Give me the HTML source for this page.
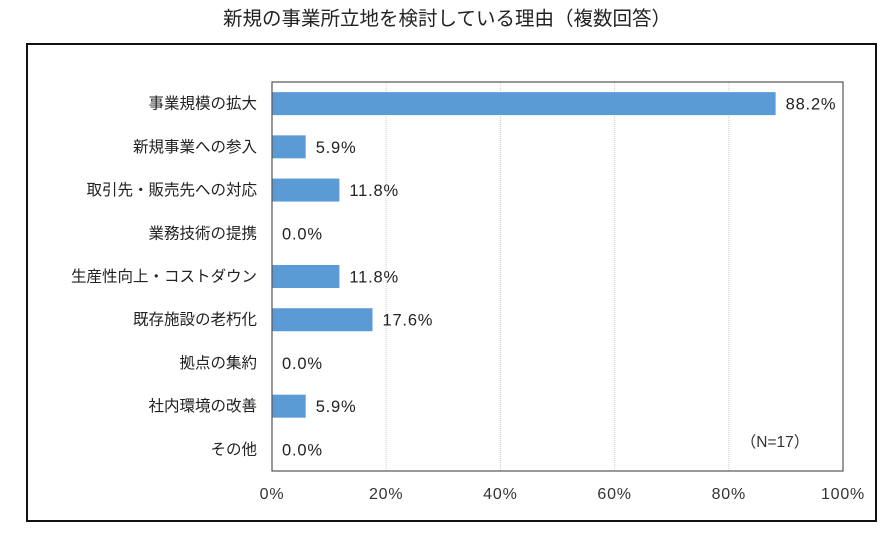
<!DOCTYPE html>
<html><head><meta charset="utf-8"><style>
body{margin:0;width:895px;height:537px;background:#fff;overflow:hidden;font-family:"Liberation Sans","Noto Sans CJK JP",sans-serif;}
</style></head><body>
<svg width="895" height="537" xmlns="http://www.w3.org/2000/svg" id="chart" font-family="Liberation Sans, Noto Sans CJK JP, sans-serif">
<text x="447" y="25" text-anchor="middle" font-size="19.5" fill="#222">新規の事業所立地を検討している理由（複数回答）</text>
<rect x="27" y="44" width="849" height="477" fill="none" stroke="#111" stroke-width="2"/>
<g id="grid"></g>
<g id="bars"></g>
<rect x="272" y="82" width="571" height="389" fill="none" stroke="#555" stroke-width="1.2"/>
<text x="775" y="447" text-anchor="middle" font-size="15.5" fill="#333">（N=17）</text>
</svg>
<script>
const categories=["事業規模の拡大","新規事業への参入","取引先・販売先への対応","業務技術の提携","生産性向上・コストダウン","既存施設の老朽化","拠点の集約","社内環境の改善","その他"];
const values=[88.2,5.9,11.8,0.0,11.8,17.6,0.0,5.9,0.0];
const ticks=[0,20,40,60,80,100];
const ns="http://www.w3.org/2000/svg";
const X0=272,W=571,Y0=82,H=389;
const x=v=>X0+v/100*W;
const band=H/categories.length;
const y=i=>Y0+band*i+band/2;
const grid=document.getElementById('grid'),bars=document.getElementById('bars');
function mk(tag,attrs,parent){const e=document.createElementNS(ns,tag);for(const k in attrs)e.setAttribute(k,attrs[k]);parent.appendChild(e);return e;}
ticks.forEach(t=>{
 if(t>0&&t<100){const l=mk('line',{x1:x(t),x2:x(t),y1:Y0,y2:Y0+H,stroke:'#ccc','stroke-dasharray':'1,1'},grid);
 
 }
 const tx=mk('text',{x:x(t),y:499,'text-anchor':'middle','font-size':16,'letter-spacing':'0.8',fill:'#333'},grid);
 tx.textContent=t+'%';
 
 
});
categories.forEach((c,i)=>{
 const lb=mk('text',{x:257,y:y(i)+5,'text-anchor':'end','font-size':15.5,fill:'#222'},bars);
 lb.textContent=c;
 
 
 const v=values[i];
 if(v>0){const r=mk('rect',{x:X0,y:y(i)-11.5,width:x(v)-X0,height:23,fill:'#5b9bd5'},bars);
 
 }
 const vl=mk('text',{x:x(v)+10,y:y(i)+6,'font-size':16.5,'letter-spacing':'0.8',fill:'#222'},bars);
 vl.textContent=v.toFixed(1)+'%';
 
 
});
</script>
</body></html>
